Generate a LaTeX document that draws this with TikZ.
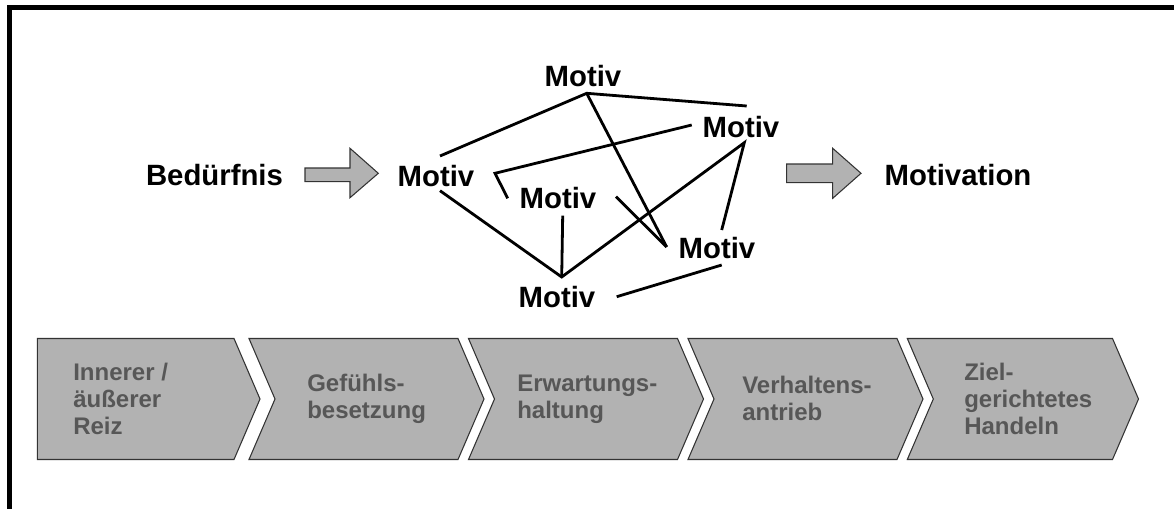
\documentclass[tikz,border=0pt]{standalone}
\usepackage{fontspec}
\setmainfont{Liberation Sans}
\begin{document}
\begin{tikzpicture}[x=0.75pt,y=-0.75pt,
  lbl/.style={font=\fontsize{22}{26}\selectfont\bfseries, inner sep=0pt, text=black},
  link/.style={line width=2.1pt, line join=miter},
  blockarrow/.style={fill=black!30, draw=black!80, line width=0.8pt, line join=miter},
  chev/.style={fill=black!30, draw=black!80, line width=0.8pt, line join=miter},
  chevtext/.style={font=\fontsize{18}{20.3}\selectfont\bfseries, text=black!66, align=left, anchor=west, inner sep=0pt},
  frame/.style={line width=3.6pt}]
\useasboundingbox (0,0) rectangle (1174,508);
% frame (top and left edges)
\draw[frame] (9.5,510) -- (9.5,7.5) -- (1176,7.5);

% labels
\node[lbl] (bed) at (214.5,175) {Bedürfnis};
\node[lbl] (mot) at (958,175) {Motivation};
\node[lbl] (mT) at (583,76) {Motiv};
\node[lbl] (mR) at (741,127) {Motiv};
\node[lbl] (mL) at (436,176) {Motiv};
\node[lbl] (mM) at (558,198) {Motiv};
\node[lbl] (mD) at (717,248) {Motiv};
\node[lbl] (mB) at (557,297) {Motiv};

% connector end points
\coordinate (t1) at (586.7,93.3);
\coordinate (l1) at (440,156);
\coordinate (r0) at (746.7,106);
\coordinate (d1) at (666.7,247);
\coordinate (r1) at (691.7,125);
\coordinate (k1) at (495,173.3);
\coordinate (m1) at (507.7,198.3);
\coordinate (l2) at (440,190.7);
\coordinate (b1) at (561.7,277);
\coordinate (m2) at (562.7,215.7);
\coordinate (r2) at (744.3,142.7);
\coordinate (d2) at (721.7,230);
\coordinate (m3) at (616,196.7);
\coordinate (b2) at (616.7,296.7);
\coordinate (d3) at (721.7,265);

\draw[link] (l1) -- (t1) -- (r0);
\draw[link] (t1) -- (d1);
\draw[link] (r1) -- (k1) -- (m1);
\draw[link] (l2) -- (b1) -- (r2) -- (d2);
\draw[link] (m2) -- (b1);
\draw[link] (m3) -- (d1);
\draw[link] (b2) -- (d3);

% block arrows
\draw[blockarrow] (305,168) -- (350,168) -- (350,148.3) -- (378.3,173.3) -- (350,197.7) -- (350,181.7) -- (305,181.7) -- cycle;
\draw[blockarrow] (786.7,164) -- (832.7,164) -- (832.7,148.3) -- (861,173.3) -- (832.7,198.3) -- (832.7,182.7) -- (786.7,182.7) -- cycle;

% chevrons
\draw[chev] (37.3,338.5) -- (234,338.5) -- (260,399) -- (234,459.5) -- (37.3,459.5) -- cycle;
\foreach \l/\r in {249/458, 468.5/677.5, 688/897, 907.3/1112.5}{
  \draw[chev] (\l,338.5) -- (\r,338.5) -- (\r+26,399) -- (\r,459.5) -- (\l,459.5) -- (\l+26,399) -- cycle;
}
\node[chevtext] (c1) at (73,399) {Innerer /\\äußerer\\Reiz};
\node[chevtext] (c2) at (307,399) {Gefühls-\\besetzung};
\node[chevtext] (c3) at (517,399) {Erwartungs-\\haltung};
\node[chevtext] (c4) at (742,398) {Verhaltens-\\antrieb};
\node[chevtext] (c5) at (964,399) {Ziel-\\gerichtetes\\Handeln};
\end{tikzpicture}
\end{document}
